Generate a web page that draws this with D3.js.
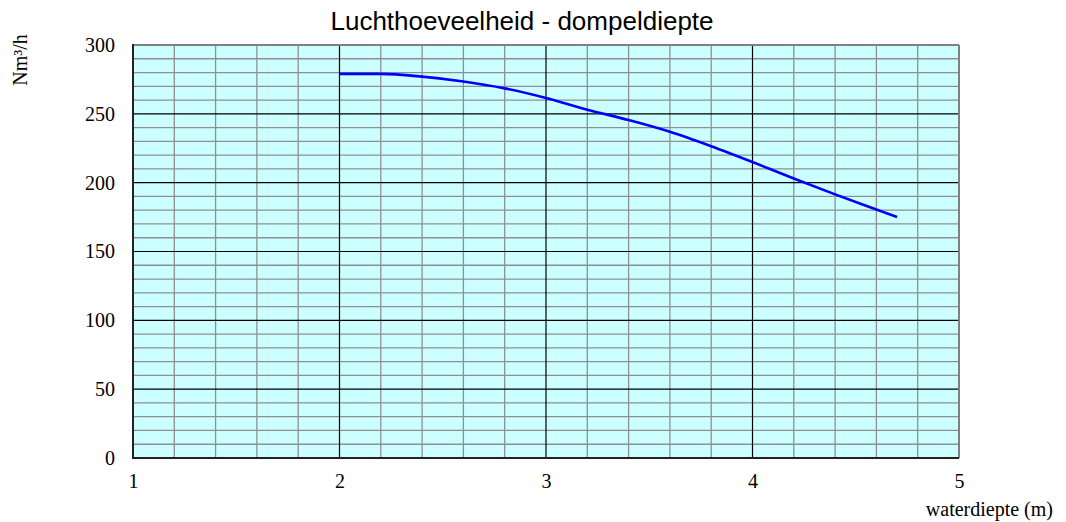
<!DOCTYPE html>
<html><head><meta charset="utf-8">
<script src="https://cdn.jsdelivr.net/npm/d3@7/dist/d3.min.js"></script>
<style>body{margin:0;background:#fff}</style>
</head><body>
<svg id="chart" width="1066" height="522"></svg>
<script>
const depth = [2.0, 2.2, 2.4, 2.6, 2.8, 3.0, 3.2, 3.4, 3.6, 3.8, 4.0, 4.2, 4.4, 4.6, 4.7];
const airflow = [279, 279, 277, 273.5, 268.5, 261.5, 253, 245.5, 237, 226.5, 215, 203, 191.5, 180.5, 175];
const xTicks = [1, 2, 3, 4, 5];
const yTicks = [0, 50, 100, 150, 200, 250, 300];
const titleText = "Luchthoeveelheid - dompeldiepte";
const xLabel = "waterdiepte (m)";
const yLabel = "Nm³/h";

const svg = d3.select("#chart");
const L = 133, R = 959, T = 45, B = 458;
const x = d3.scaleLinear().domain([1, 5]).range([L, R]);
const y = d3.scaleLinear().domain([0, 300]).range([B, T]);

svg.append("rect").attr("x", L).attr("y", T).attr("width", R - L).attr("height", B - T).attr("fill", "#ccffff");

const minorX = d3.range(0, 21).map(i => 1 + i * 0.2).filter(v => Math.abs(v - Math.round(v)) > 1e-6);
const minorY = d3.range(0, 31).map(i => i * 10).filter(v => v % 50 !== 0);
const g = svg.append("g");
g.selectAll(".mx").data(minorX).join("line")
  .attr("x1", d => x(d)).attr("x2", d => x(d)).attr("y1", T).attr("y2", B)
  .attr("stroke", "#8f8f8f").attr("stroke-width", 1.3);
g.selectAll(".my").data(minorY).join("line")
  .attr("y1", d => y(d)).attr("y2", d => y(d)).attr("x1", L).attr("x2", R)
  .attr("stroke", "#8f8f8f").attr("stroke-width", 1.3);
g.selectAll(".Mx").data(xTicks.slice(1, -1)).join("line")
  .attr("x1", d => x(d)).attr("x2", d => x(d)).attr("y1", T).attr("y2", B)
  .attr("stroke", "#000").attr("stroke-width", 1.2);
g.selectAll(".My").data(yTicks.slice(1, -1)).join("line")
  .attr("y1", d => y(d)).attr("y2", d => y(d)).attr("x1", L).attr("x2", R)
  .attr("stroke", "#000").attr("stroke-width", 1.2);

// borders
svg.append("line").attr("x1", L).attr("x2", R).attr("y1", T).attr("y2", T).attr("stroke", "#808080").attr("stroke-width", 2);
svg.append("line").attr("x1", R).attr("x2", R).attr("y1", T).attr("y2", B).attr("stroke", "#808080").attr("stroke-width", 2);
svg.append("line").attr("x1", L).attr("x2", R).attr("y1", B).attr("y2", B).attr("stroke", "#222").attr("stroke-width", 2);
svg.append("line").attr("x1", L).attr("x2", L).attr("y1", T - 1).attr("y2", B + 1).attr("stroke", "#222").attr("stroke-width", 2);

// line
const data = depth.map((d, i) => [d, airflow[i]]);
svg.append("path").datum(data)
  .attr("fill", "none").attr("stroke", "#0000ff").attr("stroke-width", 2.6)
  .attr("d", d3.line().x(d => x(d[0])).y(d => y(d[1])).curve(d3.curveMonotoneX));

// axes
const xAxis = svg.append("g").attr("transform", `translate(0,${B})`)
  .call(d3.axisBottom(x).tickValues(xTicks).tickSize(0).tickPadding(16).tickFormat(d3.format("d")));
const yAxis = svg.append("g").attr("transform", `translate(${L},0)`)
  .call(d3.axisLeft(y).tickValues(yTicks).tickSize(0).tickPadding(18).tickFormat(d3.format("d")));
[xAxis, yAxis].forEach(a => {
  a.select(".domain").remove();
  a.selectAll("text").attr("font-family", "'Liberation Serif', 'Times New Roman', serif").attr("font-size", 20).attr("fill", "#000");
});

svg.append("text").attr("x", 522).attr("y", 30).attr("text-anchor", "middle")
  .attr("font-family", "'Liberation Sans', Arial, sans-serif").attr("font-size", 26).text(titleText);
svg.append("text").attr("x", 1053).attr("y", 516).attr("text-anchor", "end")
  .attr("font-family", "'Liberation Serif', 'Times New Roman', serif").attr("font-size", 20).text(xLabel);
svg.append("text").attr("transform", "translate(27,60) rotate(-90)").attr("text-anchor", "middle")
  .attr("font-family", "'Liberation Serif', 'Times New Roman', serif").attr("font-size", 20).text(yLabel);
</script>
</body></html>
